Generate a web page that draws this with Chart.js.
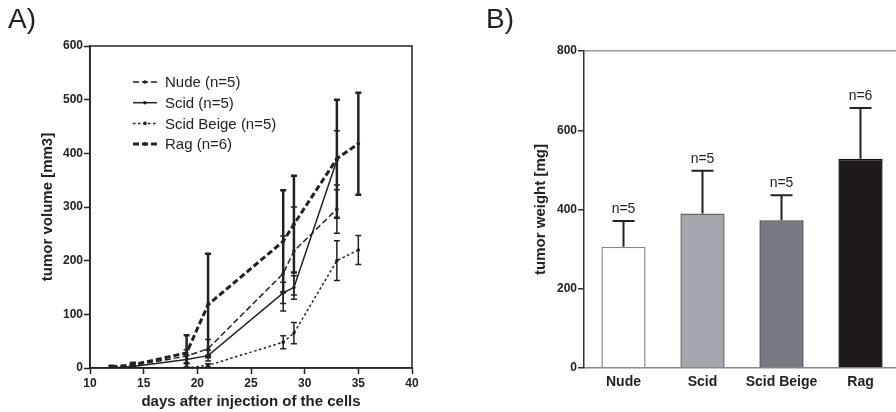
<!DOCTYPE html>
<html>
<head>
<meta charset="utf-8">
<script src="https://cdn.jsdelivr.net/npm/chart.js@4"></script>
<style>
html, body { margin: 0; padding: 0; overflow: hidden; background: #fff; }
body { width: 896px; height: 412px; position: relative; font-family: 'Liberation Sans', Arial, sans-serif; }
.panel { position: absolute; top: 0; height: 412px; }
#wrapA { left: 0; width: 450px; }
#wrapB { left: 470px; width: 440px; }
.tag { position: absolute; top: 5px; font-size: 28px; line-height: 28px; color: #222; z-index: 2; }
</style>
</head>
<body>
<div class="panel" id="wrapA"><canvas id="volumeChart" width="450" height="412"></canvas></div>
<div class="panel" id="wrapB"><canvas id="weightChart" width="440" height="412"></canvas></div>
<div class="tag" style="left:8px">A)</div>
<div class="tag" style="left:486px">B)</div>
<script>
// A) tumor volume over time
const nudeDays = [12, 14, 19, 21, 28, 29, 33];
const nudeVol = [0, 5, 22, 36, 176, 218, 296];
const nudeSd = [1, 3, 12, 17, 70, 82, 45];

const scidDays = [12, 14, 19, 21, 28, 29, 33];
const scidVol = [0, 3, 16, 23, 140, 150, 387];
const scidSd = [1, 2, 8, 10, 20, 22, 55];

const beigeDays = [12, 14, 19, 21, 28, 29, 33, 35];
const beigeVol = [0, 0, 0, 5, 48, 65, 200, 220];
const beigeSd = [0, 0, 2, 3, 12, 20, 37, 27];

const ragDays = [12, 14, 19, 21, 28, 29, 33, 35];
const ragVol = [2, 6, 28, 118, 236, 268, 390, 418];
const ragSd = [2, 4, 33, 95, 95, 90, 110, 95];

// B) tumor weight
const groups = ['Nude', 'Scid', 'Scid Beige', 'Rag'];
const weightMean = [306, 390, 373, 528];
const weightSd = [65, 108, 63, 128];
const groupN = [5, 5, 5, 6];

Chart.defaults.font.family = "'Liberation Sans', Arial, sans-serif";
Chart.defaults.color = '#222';
Chart.defaults.animation = false;

const toPoints = (days, vals) => days.map((d, i) => ({ x: d, y: vals[i] }));

const errorBarsA = {
    id: 'errorBarsA',
    afterDatasetsDraw(chart) {
        const { ctx, chartArea, scales: { x, y } } = chart;
        ctx.save();
        ctx.beginPath();
        ctx.rect(chartArea.left, chartArea.top, chartArea.width, chartArea.height);
        ctx.clip();
        ctx.strokeStyle = '#222';
        chart.data.datasets.forEach(ds => {
            ctx.lineWidth = ds.errWidth;
            ds.data.forEach((p, i) => {
                const sd = ds.errors[i];
                if (!sd) return;
                const px = x.getPixelForValue(p.x);
                const top = y.getPixelForValue(p.y + sd);
                const bot = y.getPixelForValue(p.y - sd);
                ctx.beginPath();
                ctx.moveTo(px, top); ctx.lineTo(px, bot);
                ctx.moveTo(px - 3, top); ctx.lineTo(px + 3, top);
                ctx.moveTo(px - 3, bot); ctx.lineTo(px + 3, bot);
                ctx.stroke();
            });
        });
        ctx.restore();
    }
};

const frameA = {
    id: 'frameA',
    afterDraw(chart) {
        const { ctx, chartArea: a } = chart;
        ctx.save();
        ctx.strokeStyle = '#222';
        ctx.lineWidth = 1.5;
        ctx.strokeRect(a.left, a.top, a.width, a.height);
        ctx.restore();
    }
};

// legend sits inside the plot, top left
const legendA = {
    id: 'legendA',
    afterDraw(chart) {
        const { ctx, chartArea: a } = chart;
        ctx.save();
        ctx.font = "15px 'Liberation Sans', Arial, sans-serif";
        ctx.textBaseline = 'middle';
        ctx.fillStyle = '#222';
        chart.data.datasets.forEach((ds, i) => {
            const yy = a.top + 36 + i * 20.7;
            const x0 = a.left + 43, x1 = a.left + 67;
            ctx.strokeStyle = '#222';
            ctx.lineWidth = ds.borderWidth;
            ctx.setLineDash(ds.borderDash || []);
            ctx.beginPath();
            ctx.moveTo(x0, yy); ctx.lineTo(x1, yy);
            ctx.stroke();
            ctx.setLineDash([]);
            ctx.beginPath();
            ctx.arc((x0 + x1) / 2, yy, 1.8, 0, Math.PI * 2);
            ctx.fill();
            ctx.fillText(ds.label, a.left + 75, yy + 1);
        });
        ctx.restore();
    }
};

new Chart(document.getElementById('volumeChart').getContext('2d'), {
    type: 'line',
    data: {
        datasets: [
            { label: 'Nude (n=5)', data: toPoints(nudeDays, nudeVol), errors: nudeSd, errWidth: 1.5,
              borderDash: [6, 3], borderWidth: 1.5 },
            { label: 'Scid (n=5)', data: toPoints(scidDays, scidVol), errors: scidSd, errWidth: 1.5,
              borderDash: [], borderWidth: 1.5 },
            { label: 'Scid Beige (n=5)', data: toPoints(beigeDays, beigeVol), errors: beigeSd, errWidth: 1.5,
              borderDash: [2.5, 2.5], borderWidth: 1.5 },
            { label: 'Rag (n=6)', data: toPoints(ragDays, ragVol), errors: ragSd, errWidth: 2.5,
              borderDash: [6, 3], borderWidth: 3 },
        ].map(ds => Object.assign(ds, {
            borderColor: '#222',
            backgroundColor: '#222',
            pointRadius: 1.8,
            pointBorderWidth: 0,
            tension: 0,
            fill: false,
        })),
    },
    options: {
        responsive: false,
        layout: { padding: { top: 46, right: 38, left: 0, bottom: 0 } },
        plugins: { legend: { display: false }, tooltip: { enabled: false } },
        scales: {
            x: {
                type: 'linear', min: 10, max: 40,
                ticks: { stepSize: 5, padding: 2, color: '#222', font: { size: 12, weight: 'bold' } },
                grid: { drawOnChartArea: false, tickLength: 6, tickColor: '#222', tickWidth: 1.5 },
                border: { color: '#222', width: 1.5 },
                title: { display: true, text: 'days after injection of the cells', color: '#222',
                         font: { size: 15, weight: 'bold' }, padding: { top: 0, bottom: 1 } },
                afterFit(s) { s.height = 44; },
            },
            y: {
                min: 0, max: 600,
                ticks: { stepSize: 100, padding: 1, color: '#222', font: { size: 12, weight: 'bold' } },
                grid: { drawOnChartArea: false, tickLength: 6, tickColor: '#222', tickWidth: 1.5 },
                border: { color: '#222', width: 1.5 },
                title: { display: true, text: 'tumor volume [mm3]', color: '#222',
                         font: { size: 15, weight: 'bold' }, padding: { top: 39, bottom: 0 } },
                afterFit(s) { s.width = 90; },
            },
        },
    },
    plugins: [errorBarsA, frameA, legendA],
});

const errorBarsB = {
    id: 'errorBarsB',
    afterDatasetsDraw(chart) {
        const { ctx, scales: { x, y } } = chart;
        ctx.save();
        ctx.strokeStyle = '#222';
        ctx.fillStyle = '#222';
        ctx.lineWidth = 2;
        ctx.font = "14px 'Liberation Sans', Arial, sans-serif";
        ctx.textAlign = 'center';
        ctx.textBaseline = 'alphabetic';
        groups.forEach((g, i) => {
            const px = x.getPixelForValue(i);
            const top = y.getPixelForValue(weightMean[i] + weightSd[i]);
            const base = y.getPixelForValue(weightMean[i]);
            ctx.beginPath();
            ctx.moveTo(px, base); ctx.lineTo(px, top);
            ctx.moveTo(px - 11, top); ctx.lineTo(px + 11, top);
            ctx.stroke();
            ctx.fillText('n=' + groupN[i], px, top - 8);
        });
        ctx.restore();
    }
};

new Chart(document.getElementById('weightChart').getContext('2d'), {
    type: 'bar',
    data: {
        labels: groups,
        datasets: [{
            data: weightMean,
            backgroundColor: ['#ffffff', '#a3a6ad', '#767a82', '#1e1a1c'],
            borderColor: ['#8a8a8a', '#666666', '#4a4a4a', '#111111'],
            borderWidth: 1.5,
            barPercentage: 0.56,
            categoryPercentage: 1,
        }],
    },
    options: {
        responsive: false,
        layout: { padding: { top: 51, right: 10, left: 0, bottom: 0 } },
        plugins: { legend: { display: false }, tooltip: { enabled: false } },
        scales: {
            x: {
                ticks: { padding: 6, color: '#222', font: { size: 14, weight: 'bold' } },
                grid: { display: false, drawTicks: false },
                border: { color: '#888', width: 1.5 },
                afterFit(s) { s.height = 44; },
            },
            y: {
                min: 0, max: 800,
                ticks: { stepSize: 200, padding: 1, color: '#222', font: { size: 12, weight: 'bold' } },
                grid: {
                    color: c => (c.tick && c.tick.value === 800 ? '#999' : 'rgba(0,0,0,0)'),
                    lineWidth: 1.5, tickLength: 6, tickColor: '#333', tickWidth: 1.5,
                },
                border: { color: '#333', width: 1.5 },
                title: { display: true, text: 'tumor weight [mg]', color: '#222',
                         font: { size: 15, weight: 'bold' }, padding: { top: 62, bottom: 0 } },
                afterFit(s) { s.width = 114; },
            },
        },
    },
    plugins: [errorBarsB],
});
</script>
</body>
</html>
